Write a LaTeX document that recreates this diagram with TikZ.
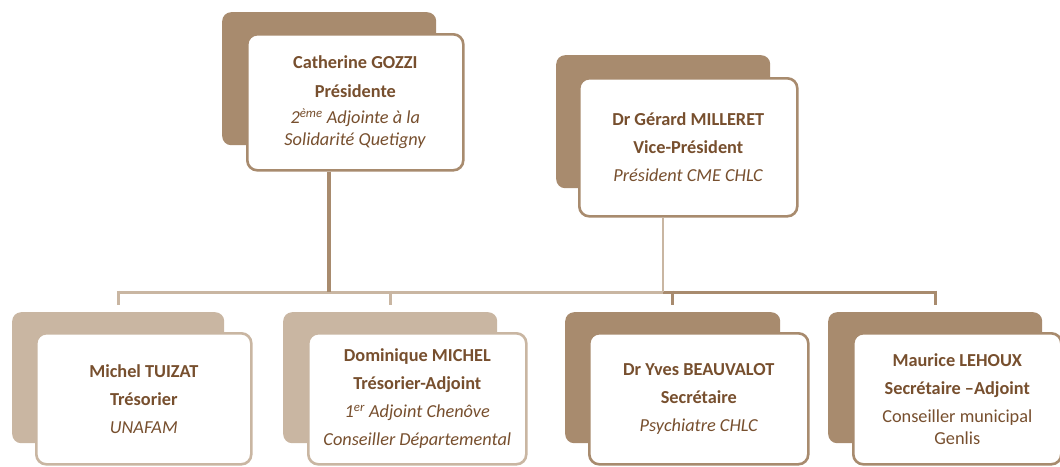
\documentclass[tikz,border=0pt]{standalone}
\usepackage{fontspec}
\setmainfont{Carlito}
\definecolor{dk}{HTML}{A88B6E}
\definecolor{lt}{HTML}{C9B6A2}
\definecolor{txt}{HTML}{774F2E}
\tikzset{
  shadowbox/.style={rectangle, rounded corners=9pt, fill=#1, draw=none, anchor=north west, minimum width=214pt, minimum height=133pt, inner sep=0pt},
  frontbox/.style={rectangle, rounded corners=10pt, fill=white, draw=#1, line width=2.6pt, anchor=north west, minimum width=216pt, minimum height=136pt, inner sep=0pt, text=txt, align=center, font=\fontsize{18.3}{22}\selectfont},
  conn/.style={line width=#1},
}
\newcommand{\pb}{\\[6pt]}
\begin{document}
\begin{tikzpicture}[x=1pt,y=-1pt]
\useasboundingbox (0,0) rectangle (1060,466);
% top
\node[shadowbox=dk] (cs) at (222,12) {};
\node[frontbox=dk] (cf) at (246,33) {\textbf{Catherine GOZZI}\\[7pt]\textbf{Présidente}\\[4pt]\textit{2\textsuperscript{ème} Adjointe à la}\\\textit{Solidarité Quetigny}};
\node[shadowbox=dk] (ms) at (556,55) {};
\node[frontbox=dk, minimum width=218pt, minimum height=138pt] (mf) at (578,77) {\textbf{Dr Gérard MILLERET}\pb\textbf{Vice-Président}\pb\textit{Président CME CHLC}};
% bottom
\node[shadowbox=lt, minimum width=212pt, minimum height=131pt] (s1) at (12,312) {};
\node[frontbox=lt, minimum width=215pt, minimum height=131pt] (f1) at (35,332) {\textbf{Michel TUIZAT}\pb\textbf{Trésorier}\pb\textit{UNAFAM}};
\node[shadowbox=lt, minimum width=214pt, minimum height=131pt] (s2) at (283,312) {};
\node[frontbox=lt, minimum width=218pt, minimum height=131pt] (f2) at (307,332) {\textbf{Dominique MICHEL}\pb\textbf{Trésorier-Adjoint}\pb\textit{1\textsuperscript{er} Adjoint Chenôve}\pb\textit{Conseiller Départemental}};
\node[shadowbox=dk, minimum width=215pt, minimum height=131pt] (s3) at (565,312) {};
\node[frontbox=dk, minimum width=219pt, minimum height=131pt] (f3) at (588,332) {\textbf{Dr Yves BEAUVALOT}\pb\textbf{Secrétaire}\pb\textit{Psychiatre CHLC}};
\node[shadowbox=dk, minimum width=214pt, minimum height=131pt] (s4) at (828,312) {};
\node[frontbox=dk, minimum width=208pt, minimum height=131pt] (f4) at (852,332) {\textbf{Maurice LEHOUX}\pb\textbf{Secrétaire –Adjoint}\pb Conseiller municipal\\Genlis};
% connectors
\coordinate (bar) at (0,292);
\draw[conn=3pt, lt] (bar -| s1.north) -- (bar -| ms.south);
\draw[conn=3pt, dk] (bar -| ms.south) -- (bar -| s4.north);
\draw[conn=4pt, dk] (cf.south -| cs.south) -- (bar -| cs.south);
\draw[conn=2.5pt, lt] (mf.south -| ms.south) -- (bar -| ms.south);
\draw[conn=3pt, lt] ([yshift=1.5pt]bar -| s1.north) -- ([yshift=7pt]s1.north);
\draw[conn=3pt, lt] ([yshift=1.5pt]bar -| s2.north) -- ([yshift=7pt]s2.north);
\draw[conn=3pt, dk] ([yshift=1.5pt]bar -| s3.north) -- ([yshift=7pt]s3.north);
\draw[conn=3pt, dk] ([yshift=1.5pt]bar -| s4.north) -- ([yshift=7pt]s4.north);
\end{tikzpicture}
\end{document}
